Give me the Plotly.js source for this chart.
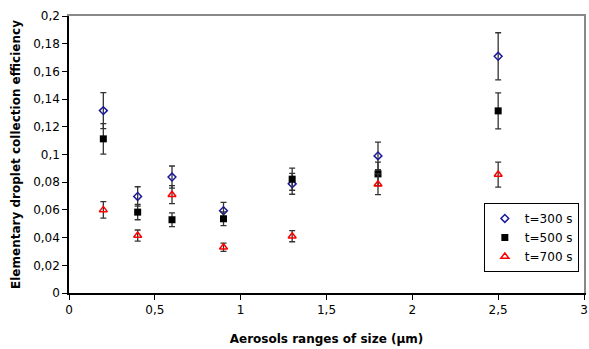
<!DOCTYPE html>
<html><head><meta charset="utf-8">
<script src="https://cdn.plot.ly/plotly-3.0.1.min.js"></script>
<style>html,body{margin:0;padding:0;background:#fff}#chart{width:589px;height:349px}</style>
</head><body><div id="chart"></div>
<script>
const sizes = [0.2, 0.4, 0.6, 0.9, 1.3, 1.8, 2.5];
const eff300 = [0.1317, 0.0697, 0.0837, 0.0594, 0.0788, 0.0990, 0.1709];
const err300 = [0.0130, 0.0070, 0.0080, 0.0060, 0.0075, 0.0100, 0.0170];
const eff500 = [0.1113, 0.0584, 0.0529, 0.0536, 0.0822, 0.0860, 0.1315];
const err500 = [0.0110, 0.0055, 0.0050, 0.0050, 0.0080, 0.0085, 0.0130];
const eff700 = [0.0600, 0.0415, 0.0710, 0.0330, 0.0410, 0.0785, 0.0855];
const err700 = [0.0060, 0.0040, 0.0065, 0.0030, 0.0040, 0.0075, 0.0090];
const yTickVals = [0, 0.02, 0.04, 0.06, 0.08, 0.1, 0.12, 0.14, 0.16, 0.18, 0.2];
const yTickText = ["0", "0,02", "0,04", "0,06", "0,08", "0,1", "0,12", "0,14", "0,16", "0,18", "0,2"];
const xTickVals = [0, 0.5, 1, 1.5, 2, 2.5, 3];
const xTickText = ["0", "0,5", "1", "1,5", "2", "2,5", "3"];

const font = "DejaVu Sans, Verdana, sans-serif";
function errBar(arr){return {type:'data', array:arr, visible:true, color:'#333', thickness:1.3, width:3};}
const traces = [
  {x:[sizes[0]], y:[eff300[0]], xaxis:'x2', yaxis:'y2', type:'scatter', mode:'markers',
   marker:{opacity:0, size:1}, showlegend:false, hoverinfo:'skip'},
  {x:sizes, y:eff300, name:'t=300 s', mode:'markers', type:'scatter', error_y:errBar(err300),
   marker:{symbol:'diamond-open', size:6, color:'#1a1a9c', line:{width:1.5, color:'#1a1a9c'}}},
  {x:sizes, y:eff500, name:'t=500 s', mode:'markers', type:'scatter', error_y:errBar(err500),
   marker:{symbol:'square', size:7, color:'#000'}},
  {x:sizes, y:eff700, name:'t=700 s', mode:'markers', type:'scatter', error_y:errBar(err700),
   marker:{symbol:'triangle-up-open', size:7, color:'#ff0000', line:{width:1.5, color:'#ff0000'}}}
];
const layout = {
  width:589, height:349,
  margin:{l:69, r:5, t:16, b:56},
  paper_bgcolor:'#fff', plot_bgcolor:'#fff',
  font:{family:font, size:12, color:'#000'},
  showlegend:true,
  legend:{x:0.99, y:0.325, xanchor:'right', yanchor:'top', bgcolor:'#fff', bordercolor:'#000', borderwidth:1,
          font:{family:font, size:12, color:'#000'}, itemwidth:30, tracegroupgap:0, traceorder:'normal'},
  xaxis:{range:[0,3], tickvals:xTickVals, ticktext:xTickText, showgrid:false, zeroline:false,
         showline:true, linecolor:'#000', linewidth:1.5, ticks:'outside', ticklen:5, tickcolor:'#000',
         tickfont:{family:font, size:12}, ticklabeloverflow:'allow', automargin:false,
         title:{text:'<b>Aerosols ranges of size (µm)</b>', font:{family:font, size:12}, standoff:18}},
  yaxis:{range:[0,0.2], tickvals:yTickVals, ticktext:yTickText, showgrid:false, zeroline:false,
         showline:true, linecolor:'#000', linewidth:1.5, ticks:'outside', ticklen:5, tickcolor:'#000',
         tickfont:{family:font, size:12},
         title:{text:'<b>Elementary droplet collection efficiency</b>', font:{family:font, size:12}, standoff:10}},
  xaxis2:{overlaying:'x', side:'top', range:[0,3], showline:true, linecolor:'#888', linewidth:1.5,
          showticklabels:false, ticks:'', showgrid:false, zeroline:false, automargin:false},
  yaxis2:{overlaying:'y', side:'right', range:[0,0.2], showline:true, linecolor:'#888', linewidth:1.5,
          showticklabels:false, ticks:'', showgrid:false, zeroline:false, automargin:false}
};
Plotly.newPlot('chart', traces, layout, {displayModeBar:false});
</script></body></html>
